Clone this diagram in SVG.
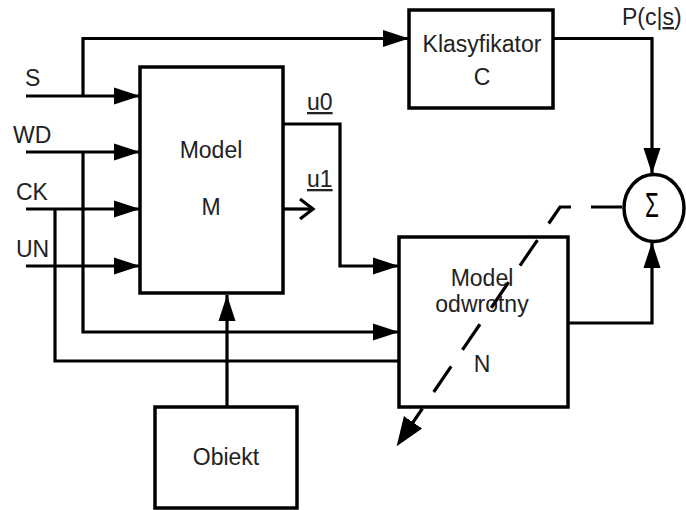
<svg xmlns="http://www.w3.org/2000/svg" width="686" height="510" viewBox="0 0 686 510">
<style>
.box{fill:#fff;stroke:#000;stroke-width:3.5}
.ln{fill:none;stroke:#000;stroke-width:3.2}
.t{font-family:"Liberation Sans",Arial,sans-serif;font-size:23px;fill:#222}
.c{text-anchor:middle}
.u{text-decoration:underline}
</style>
<defs>
<marker id="arr" markerUnits="userSpaceOnUse" markerWidth="28" markerHeight="20" viewBox="0 0 28 20" refX="26" refY="10" orient="auto">
<path d="M0,1.5 L26,10 L0,18.5 Z" fill="#000"/>
</marker>
<marker id="arr2" markerUnits="userSpaceOnUse" markerWidth="40" markerHeight="24" viewBox="0 0 40 24" refX="16" refY="12" orient="auto">
<path d="M0,1 L29,12 L0,23 Z" fill="#000"/>
</marker>
</defs>
<g id="labels">
<text class="t" x="25" y="86">S</text>
<text class="t" x="13" y="143">WD</text>
<text class="t" x="16" y="200">CK</text>
<text class="t" x="16" y="257">UN</text>
<text class="t u" x="307" y="110">u0</text>
<text class="t u" x="307" y="187">u1</text>
<text class="t" x="622" y="25">P(c|<tspan class="u">s</tspan>)</text>
</g>
<g id="modelM">
<rect class="box" x="140" y="67" width="143" height="226"/>
<text class="t c" x="211" y="158">Model</text>
<text class="t c" x="211" y="215">M</text>
</g>
<g id="klasyfikator">
<rect class="box" x="409" y="10" width="144" height="98"/>
<text class="t c" x="482" y="52">Klasyfikator</text>
<text class="t c" x="482" y="85">C</text>
</g>
<g id="modelN">
<rect class="box" x="399" y="237" width="169" height="170"/>
<text class="t c" x="482" y="286">Model</text>
<text class="t c" x="482" y="312">odwrotny</text>
<text class="t c" x="482" y="372">N</text>
</g>
<g id="obiekt">
<rect class="box" x="155" y="407" width="142" height="101"/>
<text class="t c" x="226" y="465">Obiekt</text>
</g>
<g id="sum">
<ellipse cx="654" cy="208" rx="30" ry="33.5" fill="#fff" stroke="#000" stroke-width="3.5"/>
<text font-family="'Liberation Sans',Arial,sans-serif" font-size="30" fill="#000" text-anchor="middle" transform="translate(652,217) scale(0.75,1.15)">Σ</text>
</g>
<g id="connectors">
<path class="ln" d="M26,96 H140" marker-end="url(#arr)"/>
<path class="ln" d="M26,152 H140" marker-end="url(#arr)"/>
<path class="ln" d="M26,209 H140" marker-end="url(#arr)"/>
<path class="ln" d="M26,266 H140" marker-end="url(#arr)"/>
<path class="ln" d="M83,96 V38.5 H409" marker-end="url(#arr)"/>
<path class="ln" d="M83,152 V332 H399" marker-end="url(#arr)"/>
<path class="ln" d="M55,209 V361 H399"/>
<path class="ln" d="M283,124 H340 V266 H399" marker-end="url(#arr)"/>
<path class="ln" d="M283,209 H312"/>
<path class="ln" d="M300,199 L313,209 L300,219"/>
<path class="ln" d="M553,38.5 H652 V174" marker-end="url(#arr)"/>
<path class="ln" d="M568,323 H652 V242" marker-end="url(#arr)"/>
<path class="ln" d="M227,407 V295" marker-end="url(#arr)"/>
<path class="ln" d="M622,207 H560 L404,435.5" stroke-dasharray="31 20" marker-end="url(#arr2)"/>
</g>
</svg>
